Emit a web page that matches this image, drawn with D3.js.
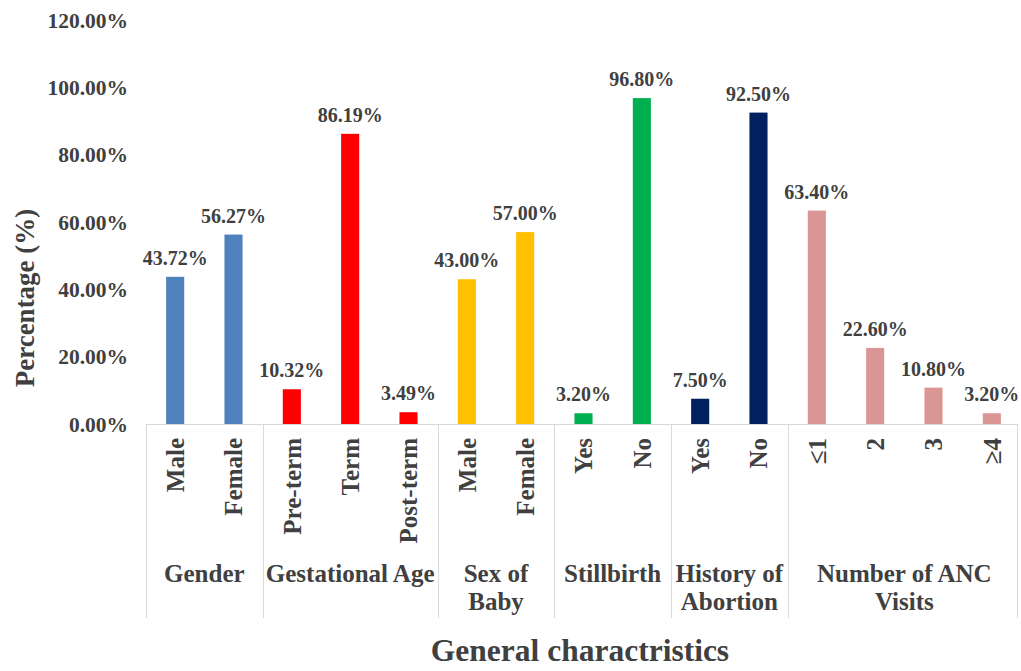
<!DOCTYPE html>
<html><head><meta charset="utf-8">
<script src="https://cdn.jsdelivr.net/npm/d3@7"></script>
<style>
body{margin:0;background:#fff;}
text{font-family:"Liberation Serif","Times New Roman",serif;font-weight:bold;fill:#404040;}
</style></head>
<body><svg id="c" width="1021" height="671"></svg>
<script>
const categories = ["Male","Female","Pre-term","Term","Post-term","Male","Female","Yes","No","Yes","No","≤1","2","3","≥4"];
const values = [43.72,56.27,10.32,86.19,3.49,43.00,57.00,3.20,96.80,7.50,92.50,63.40,22.60,10.80,3.20];
const groups = [["Gender"],["Gestational Age"],["Sex of","Baby"],["Stillbirth"],["History of","Abortion"],["Number of ANC","Visits"]];
const groupSizes = [2,3,2,2,2,4];
const groupColors = ["#4F81BD","#FF0000","#FFC000","#00B050","#002060","#DA9694"];
const yTicks = [0,20,40,60,80,100,120];
const yTitle = "Percentage (%)";
const xTitle = "General charactristics";

const svg = d3.select("#c");
const idx = d3.range(categories.length);
const x = d3.scaleBand().domain(idx).range([146,1021]).paddingInner(0.69).paddingOuter(0.345);
const y = d3.scaleLinear().domain([0,120]).range([424,20]);

const groupOf = [];
groupSizes.forEach((n,g)=>{for(let i=0;i<n;i++) groupOf.push(g);});
const groupStart = [];
let acc=0; groupSizes.forEach(n=>{groupStart.push(acc); acc+=n;});
const step = x.step();
const left = i => x.range()[0] + i*step;

// y axis labels
svg.append("g").selectAll("text").data(yTicks).join("text")
  .attr("x",128).attr("y",d=>y(d)).attr("dy","0.35em")
  .attr("text-anchor","end").style("font-size","21.5px")
  .text(d=>d.toFixed(2)+"%");

// axis line
svg.append("line").attr("x1",x.range()[0]).attr("x2",x.range()[1]-4)
  .attr("y1",y(0)+0.5).attr("y2",y(0)+0.5).attr("stroke","#d9d9d9").attr("stroke-width",1);

// group separators
const seps = groupStart.map(s=>left(s)).concat([x.range()[1]-4]);
svg.append("g").selectAll("line").data(seps).join("line")
  .attr("x1",d=>Math.round(d)+0.5).attr("x2",d=>Math.round(d)+0.5)
  .attr("y1",y(0)).attr("y2",618).attr("stroke","#d9d9d9").attr("stroke-width",1);

// bars
svg.append("g").selectAll("rect").data(idx).join("rect")
  .attr("x",i=>x(i)).attr("width",x.bandwidth())
  .attr("y",i=>y(values[i])).attr("height",i=>y(0)-y(values[i]))
  .attr("fill",i=>groupColors[groupOf[i]]);

// data labels
svg.append("g").selectAll("text").data(idx).join("text")
  .attr("x",i=>x(i)+x.bandwidth()/2).attr("y",i=>y(values[i])-12)
  .attr("text-anchor","middle").style("font-size","20px")
  .text(i=>values[i].toFixed(2)+"%");

// category labels (rotated)
svg.append("g").selectAll("text").data(idx).join("text")
  .attr("transform",i=>`translate(${x(i)+x.bandwidth()/2},438) rotate(-90)`)
  .attr("dy","0.35em").attr("text-anchor","end").style("font-size","25px")
  .text(i=>categories[i]);

// group labels
const gl = svg.append("g").selectAll("text").data(groups).join("text")
  .attr("text-anchor","middle").style("font-size","25px")
  .attr("x",(d,g)=>(left(groupStart[g])+left(groupStart[g]+groupSizes[g]))/2)
  .attr("y",582);
gl.selectAll("tspan").data(d=>d).join("tspan")
  .attr("x",function(){return d3.select(this.parentNode).attr("x");})
  .attr("dy",(d,i)=>i===0?0:28).text(d=>d);

// axis titles
svg.append("text").attr("transform","translate(34,298) rotate(-90)")
  .attr("text-anchor","middle").style("font-size","27px").text(yTitle);
svg.append("text").attr("x",580).attr("y",661).attr("text-anchor","middle")
  .style("font-size","31.5px").text(xTitle);
</script></body></html>
